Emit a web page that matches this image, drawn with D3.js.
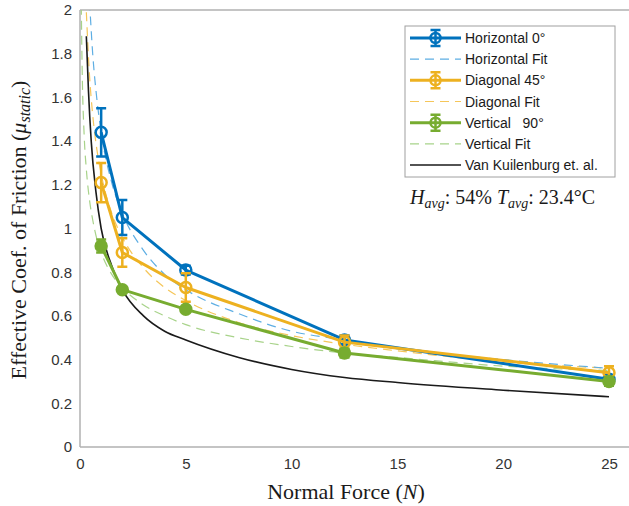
<!DOCTYPE html>
<html>
<head>
<meta charset="utf-8">
<script src="https://cdn.jsdelivr.net/npm/d3@7"></script>
<style>
  body { margin: 0; background: #fff; }
  svg { display: block; }
</style>
</head>
<body>
<div id="chart"></div>
<script>
// measured points (normal force in N)
const forces = [1, 2, 5, 12.5, 25];
const horizontal = [1.44, 1.05, 0.81, 0.49, 0.31];
const horizontalErr = [0.11, 0.08, 0.02, 0.02, 0.02];
const diagonal = [1.21, 0.89, 0.73, 0.48, 0.34];
const diagonalErr = [0.09, 0.065, 0.065, 0.03, 0.03];
const vertical = [0.92, 0.72, 0.63, 0.43, 0.30];
const verticalErr = [0.03, 0.01, 0.01, 0.02, 0.02];

// fitted curves
const horizontalFitF = [0.45, 0.6, 0.8, 1, 1.5, 2, 3, 4, 5, 7.5, 10, 12.5, 15, 20, 25];
const horizontalFit = [2.04, 1.80, 1.59, 1.44, 1.21, 1.07, 0.90, 0.79, 0.72, 0.61, 0.53, 0.49, 0.45, 0.40, 0.36];
const diagonalFitF = [0.3, 0.45, 0.6, 0.8, 1, 1.5, 2, 3, 4, 5, 7.5, 10, 12.5, 15, 20, 25];
const diagonalFit = [1.99, 1.70, 1.52, 1.36, 1.25, 1.07, 0.96, 0.82, 0.73, 0.67, 0.57, 0.51, 0.47, 0.44, 0.39, 0.36];
const verticalFitF = [0.06, 0.1, 0.2, 0.3, 0.45, 0.6, 0.8, 1, 1.5, 2, 3, 4, 5, 7.5, 10, 12.5, 15, 20, 25];
const verticalFit = [2.02, 1.74, 1.42, 1.27, 1.13, 1.04, 0.95, 0.89, 0.79, 0.73, 0.65, 0.60, 0.56, 0.50, 0.46, 0.43, 0.41, 0.37, 0.35];

// Van Kuilenburg et. al. model
const kuilenburgF = [0.3, 0.4, 0.53, 0.75, 1, 1.5, 2, 3, 4, 5, 7.5, 10, 12.5, 15, 20, 25];
const kuilenburg = [1.88, 1.63, 1.40, 1.17, 1.00, 0.83, 0.72, 0.60, 0.53, 0.49, 0.41, 0.355, 0.318, 0.295, 0.26, 0.23];

const xTicks = [0, 5, 10, 15, 20, 25];
const yTicks = [0, 0.2, 0.4, 0.6, 0.8, 1, 1.2, 1.4, 1.6, 1.8, 2];

const W = 629, H = 506;
const pLeft = 80, pRight = 609, pTop = 10, pBottom = 447;

const x = d3.scaleLinear().domain([0, 25]).range([pLeft, pRight]);
const y = d3.scaleLinear().domain([0, 2]).range([pBottom, pTop]);

const svg = d3.select("#chart").append("svg")
    .attr("width", W).attr("height", H);

svg.append("clipPath").attr("id", "plot-clip")
    .append("rect").attr("x", pLeft).attr("y", pTop)
    .attr("width", W - pLeft).attr("height", pBottom - pTop);

// axes box (right side is cut off in the picture)
svg.append("line").attr("x1", pLeft).attr("x2", W).attr("y1", pTop).attr("y2", pTop)
    .attr("stroke", "#b0b0b0").attr("stroke-width", 1.5);

const xAxis = svg.append("g").attr("transform", "translate(0," + pBottom + ")")
    .call(d3.axisBottom(x).tickValues(xTicks).tickSize(0).tickPadding(11).tickFormat(d3.format("d")));
const yAxis = svg.append("g").attr("transform", "translate(" + pLeft + ",0)")
    .call(d3.axisLeft(y).tickValues(yTicks).tickSize(0).tickPadding(8).tickFormat(d => String(+d.toFixed(1))));

[xAxis, yAxis].forEach(g => {
    g.select(".domain").remove();
    g.selectAll("text").attr("font-family", "Liberation Sans, Arial, sans-serif")
        .attr("font-size", 15).attr("fill", "#333");
});
svg.append("line").attr("x1", pLeft).attr("x2", W).attr("y1", pBottom).attr("y2", pBottom)
    .attr("stroke", "#b0b0b0").attr("stroke-width", 1.5);
svg.append("line").attr("x1", pLeft).attr("x2", pLeft).attr("y1", pTop).attr("y2", pBottom)
    .attr("stroke", "#b0b0b0").attr("stroke-width", 1.5);

const plot = svg.append("g").attr("clip-path", "url(#plot-clip)");

const curveLine = d3.line().x(d => x(d[0])).y(d => y(d[1])).curve(d3.curveMonotoneX);
const straight = d3.line().x(d => x(d[0])).y(d => y(d[1]));

const fits = [
    { f: verticalFitF, v: verticalFit, color: "#a8d38a" },
    { f: diagonalFitF, v: diagonalFit, color: "#f5c65a" },
    { f: horizontalFitF, v: horizontalFit, color: "#5eaee3" }
];
fits.forEach(s => {
    plot.append("path").datum(d3.zip(s.f, s.v))
        .attr("d", curveLine).attr("fill", "none")
        .attr("stroke", s.color).attr("stroke-width", 1.2)
        .attr("stroke-dasharray", "9,6");
});

plot.append("path").datum(d3.zip(kuilenburgF, kuilenburg))
    .attr("d", curveLine).attr("fill", "none")
    .attr("stroke", "#1a1a1a").attr("stroke-width", 1.6);

const series = [
    { name: "Horizontal 0°", v: horizontal, e: horizontalErr, color: "#0072bd", fill: "none" },
    { name: "Diagonal 45°", v: diagonal, e: diagonalErr, color: "#edb120", fill: "none" },
    { name: "Vertical   90°", v: vertical, e: verticalErr, color: "#77ac30", fill: "#77ac30" }
];

const cap = 5;
series.forEach(s => {
    const pts = d3.zip(forces, s.v, s.e);
    plot.append("path").datum(pts).attr("d", straight).attr("fill", "none")
        .attr("stroke", s.color).attr("stroke-width", 3).attr("stroke-linejoin", "round");
    const g = plot.append("g").attr("stroke", s.color).attr("stroke-width", 2.5);
    g.selectAll("path.err").data(pts).join("path").attr("class", "err")
        .attr("fill", "none")
        .attr("d", d => {
            const cx = x(d[0]), y1 = y(d[1] + d[2]), y0 = y(d[1] - d[2]);
            return "M" + (cx - cap) + "," + y1 + "H" + (cx + cap) +
                "M" + cx + "," + y1 + "V" + y0 +
                "M" + (cx - cap) + "," + y0 + "H" + (cx + cap);
        });
    g.selectAll("circle").data(pts).join("circle")
        .attr("cx", d => x(d[0])).attr("cy", d => y(d[1])).attr("r", 5.5)
        .attr("fill", s.fill);
});

// legend
const lg = svg.append("g").attr("transform", "translate(405,26)");
lg.append("rect").attr("width", 210).attr("height", 151)
    .attr("fill", "#fff").attr("stroke", "#a0a0a0").attr("stroke-width", 1);

const legendItems = [
    { label: series[0].name, color: series[0].color, type: "data" },
    { label: "Horizontal Fit", color: fits[2].color, type: "fit" },
    { label: series[1].name, color: series[1].color, type: "data" },
    { label: "Diagonal Fit", color: fits[1].color, type: "fit" },
    { label: series[2].name, color: series[2].color, type: "data" },
    { label: "Vertical Fit", color: fits[0].color, type: "fit" },
    { label: "Van Kuilenburg et. al.", color: "#1a1a1a", type: "model" }
];
const rowY = d3.scalePoint().domain(d3.range(legendItems.length)).range([12, 139]);

const row = lg.selectAll("g.row").data(legendItems).join("g").attr("class", "row")
    .attr("transform", (d, i) => "translate(0," + rowY(i) + ")");
row.append("line").attr("x1", 5).attr("x2", 56).attr("y1", 0).attr("y2", 0)
    .attr("stroke", d => d.color)
    .attr("stroke-width", d => d.type === "data" ? 3 : d.type === "fit" ? 1.2 : 1.6)
    .attr("stroke-dasharray", d => d.type === "fit" ? "9,6" : null);
const mk = row.filter(d => d.type === "data").append("g")
    .attr("stroke", d => d.color).attr("stroke-width", 2.5).attr("fill", "none");
mk.append("path").attr("d", "M25.5,-8H35.5M30.5,-8V8M25.5,8H35.5");
mk.append("circle").attr("cx", 30.5).attr("cy", 0).attr("r", 5);
row.append("text").attr("x", 60).attr("y", 0).attr("dy", "0.36em")
    .attr("font-family", "Liberation Sans, Arial, sans-serif").attr("font-size", 14)
    .attr("fill", "#1a1a1a")
    .style("white-space", "pre")
    .text(d => d.label);

// humidity / temperature note
const note = svg.append("text").attr("x", 410).attr("y", 204)
    .attr("font-family", "Liberation Serif, Times New Roman, serif").attr("font-size", 20)
    .attr("fill", "#1a1a1a");
note.append("tspan").attr("font-style", "italic").text("H");
note.append("tspan").attr("font-style", "italic").attr("font-size", 14).attr("dy", 4).text("avg");
note.append("tspan").attr("dy", -4).text(": 54% ");
note.append("tspan").attr("font-style", "italic").text("T");
note.append("tspan").attr("font-style", "italic").attr("font-size", 14).attr("dy", 4).text("avg");
note.append("tspan").attr("dy", -4).text(": 23.4°C");

// axis titles
svg.append("text").attr("x", 346).attr("y", 499)
    .attr("text-anchor", "middle")
    .attr("font-family", "Liberation Serif, Times New Roman, serif").attr("font-size", 22)
    .attr("fill", "#1a1a1a")
    .call(t => {
        t.append("tspan").text("Normal Force (");
        t.append("tspan").attr("font-style", "italic").text("N");
        t.append("tspan").text(")");
    });

svg.append("text")
    .attr("transform", "translate(26,230) rotate(-90)")
    .attr("text-anchor", "middle")
    .attr("font-family", "Liberation Serif, Times New Roman, serif").attr("font-size", 22)
    .attr("fill", "#1a1a1a")
    .call(t => {
        t.append("tspan").text("Effective Coef. of Friction (");
        t.append("tspan").attr("font-style", "italic").text("μ");
        t.append("tspan").attr("font-style", "italic").attr("font-size", 16).attr("dy", 4).text("static");
        t.append("tspan").attr("dy", -4).text(")");
    });
</script>
</body>
</html>
